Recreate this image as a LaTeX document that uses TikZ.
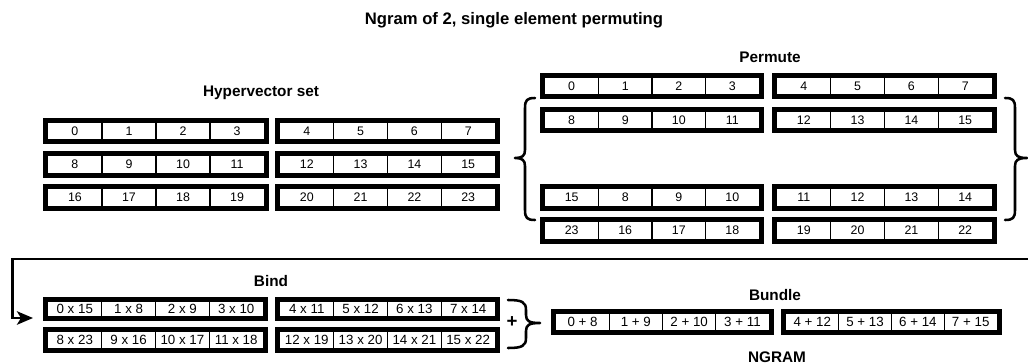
\documentclass[tikz,border=0pt]{standalone}
\usepackage{fontspec}
\setmainfont{Liberation Sans}
\usetikzlibrary{arrows.meta}
\tikzset{
 frame/.style={draw, line width=3.7pt, inner sep=0pt, outer sep=0pt, fill=white},
 divider/.style={line width=1pt},
 cellsmall/.style={font=\fontsize{9.3}{11}\selectfont, inner sep=0pt},
 cellbig/.style={font=\fontsize{10}{12}\selectfont, inner sep=0pt},
 heading/.style={font=\bfseries\fontsize{11.5}{13}\selectfont, inner sep=0pt},
 titletext/.style={font=\bfseries\fontsize{12.5}{15}\selectfont, inner sep=0pt},
 conn/.style={line width=2.1pt},
 bracepath/.style={line width=1.9pt, line join=round, line cap=round},
}
\newcommand\hvhalf[7]{%
  \node[frame, minimum width={(#4-#2-4.9)*0.75pt}, minimum height={(#5-#3-4.9)*0.75pt}] (#1) at ({(#2+#4)/2},{(#3+#5)/2}) {};
  \pgfmathsetmacro\hvL{#2+4.9}%
  \pgfmathsetmacro\hvW{(#4-#2-9.8)/4}%
  \foreach \k in {1,2,3}{\draw[divider] ({\hvL+\k*\hvW},#3+3) -- ({\hvL+\k*\hvW},#5-3);}%
  \foreach \t [count=\i] in {#7}{\node[#6] (#1-\i) at ({\hvL+(\i-0.5)*\hvW},{(#3+#5)/2}) {\t};}%
}
\begin{document}
\begin{tikzpicture}[x=0.75pt,y=-0.75pt]
\useasboundingbox (0,0) rectangle (1028,364);
% title
\node[titletext] (title) at (514,20) {Ngram of 2, single element permuting};
% Hypervector set
\node[heading] (hvtitle) at (261,93) {Hypervector set};
\hvhalf{h1a}{43}{118}{269}{144}{cellsmall}{0,1,2,3}
\hvhalf{h1b}{275}{118}{500}{144}{cellsmall}{4,5,6,7}
\hvhalf{h2a}{43}{151}{269}{178}{cellsmall}{8,9,10,11}
\hvhalf{h2b}{275}{151}{500}{178}{cellsmall}{12,13,14,15}
\hvhalf{h3a}{43}{184}{269}{211}{cellsmall}{16,17,18,19}
\hvhalf{h3b}{275}{184}{500}{211}{cellsmall}{20,21,22,23}
% Permute
\node[heading] (ptitle) at (770,57) {Permute};
\hvhalf{p1a}{540}{73}{764}{99}{cellsmall}{0,1,2,3}
\hvhalf{p1b}{772}{73}{997}{99}{cellsmall}{4,5,6,7}
\hvhalf{p2a}{540}{107}{764}{133}{cellsmall}{8,9,10,11}
\hvhalf{p2b}{772}{107}{997}{133}{cellsmall}{12,13,14,15}
\hvhalf{p3a}{540}{184}{764}{211}{cellsmall}{15,8,9,10}
\hvhalf{p3b}{772}{184}{997}{211}{cellsmall}{11,12,13,14}
\hvhalf{p4a}{540}{217}{764}{244}{cellsmall}{23,16,17,18}
\hvhalf{p4b}{772}{217}{997}{244}{cellsmall}{19,20,21,22}
% permute braces
\draw[bracepath] (535,98) .. controls (527,98) and (525,100) .. (525,108) -- (525,150)
  .. controls (525,156) and (522,158) .. (515,158)
  .. controls (522,158) and (525,160) .. (525,166) -- (525,210)
  .. controls (525,218) and (527,220) .. (535,220);
\draw[bracepath] (1005,98) .. controls (1013,98) and (1015,100) .. (1015,108) -- (1015,150)
  .. controls (1015,156) and (1018,158) .. (1027,158)
  .. controls (1018,158) and (1015,160) .. (1015,166) -- (1015,210)
  .. controls (1015,218) and (1013,220) .. (1005,220);
% feedback connector
\coordinate (fbS) at (1028,259);
\coordinate (fbA) at (12.5,259);
\coordinate (fbE) at (33,318);
\draw[conn, -{Stealth[length=12pt,width=10pt,inset=3pt]}] (fbS) -- (fbA) |- (fbE);
% Bind
\node[heading] (btitle) at (271,281) {Bind};
\hvhalf{b1a}{43}{297}{268}{321}{cellbig}{0 x 15,1 x 8,2 x 9,3 x 10}
\hvhalf{b1b}{275}{297}{500}{321}{cellbig}{4 x 11,5 x 12,6 x 13,7 x 14}
\hvhalf{b2a}{43}{327}{268}{353}{cellbig}{8 x 23,9 x 16,10 x 17,11 x 18}
\hvhalf{b2b}{275}{327}{500}{353}{cellbig}{12 x 19,13 x 20,14 x 21,15 x 22}
% bind brace and plus
\node[font=\bfseries\fontsize{14}{16}\selectfont, inner sep=0pt] (plus) at (512,322) {+};
\draw[bracepath] (508,300) .. controls (522,300) and (526,302) .. (526,310) -- (526,315)
  .. controls (526,321) and (529,323) .. (540,323)
  .. controls (529,323) and (526,325) .. (526,331) -- (526,338)
  .. controls (526,346) and (522,348) .. (508,348);
% Bundle
\node[heading] (bdtitle) at (775,295) {Bundle};
\hvhalf{u1a}{551}{309}{774}{335}{cellbig}{0 + 8,1 + 9,2 + 10,3 + 11}
\hvhalf{u1b}{781}{309}{1002}{335}{cellbig}{4 + 12,5 + 13,6 + 14,7 + 15}
\node[heading] (ngram) at (777,357) {NGRAM};
\end{tikzpicture}
\end{document}
